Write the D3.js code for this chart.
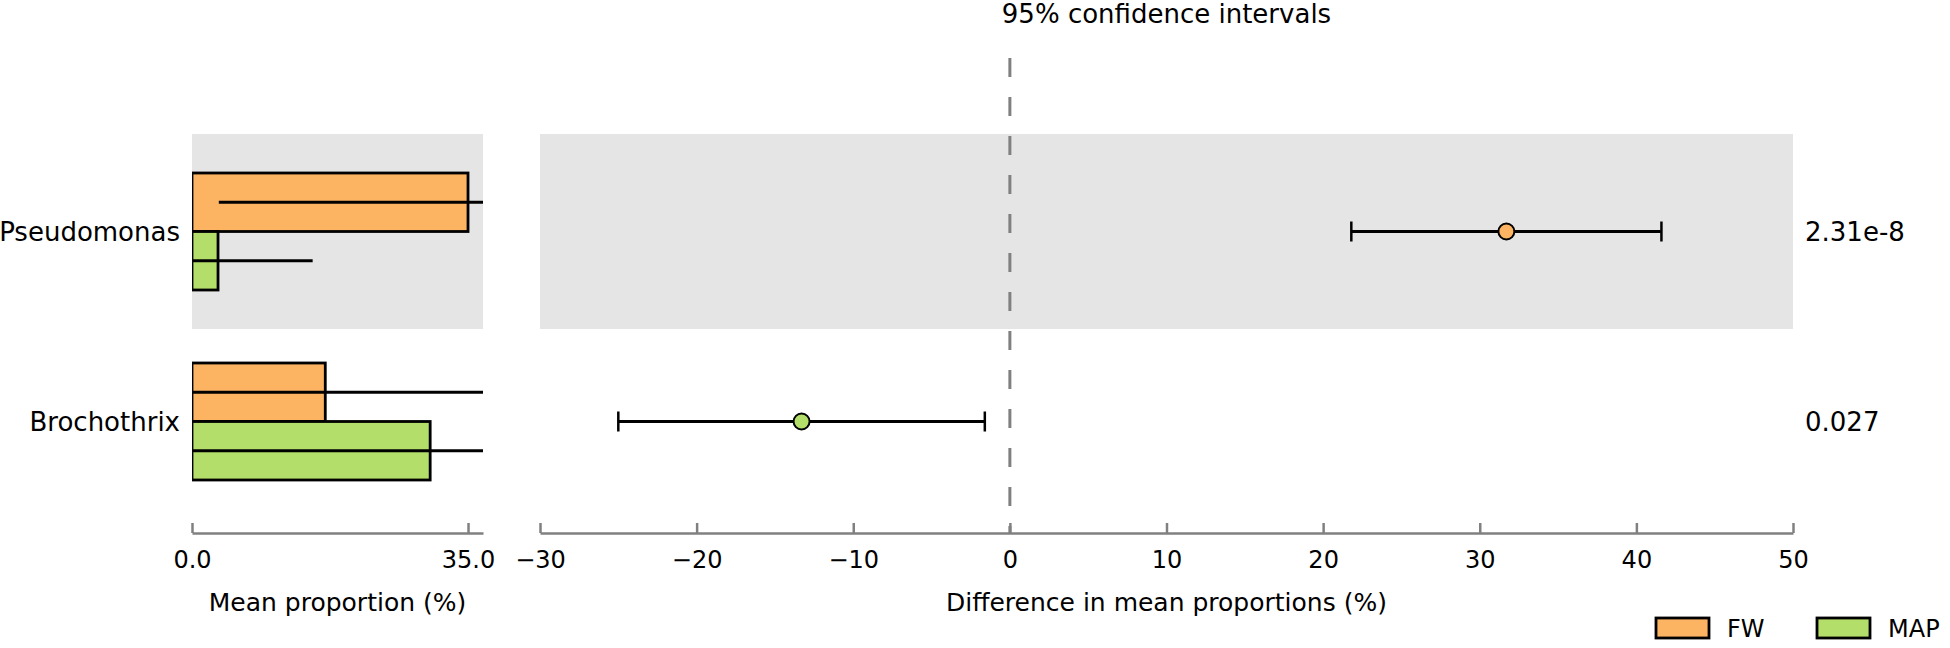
<!DOCTYPE html>
<html>
<head>
<meta charset="utf-8">
<script src="https://cdn.jsdelivr.net/npm/d3@7"></script>
<style>
  body { margin: 0; background: #fff; }
  svg text { font-family: "DejaVu Sans", sans-serif; fill: #000; }
  .axis path, .axis line { stroke: #808080; stroke-width: 2.5; }
  .axis text { font-size: 24px; fill: #000; }
</style>
</head>
<body>
<div id="chart"></div>
<script>
const width = 1950;
const height = 648;

// data
const categories = ['Pseudomonas', 'Brochothrix'];
const groups = ['FW', 'MAP'];
const groupColors = ['#fdb462', '#b3de69'];
const meanFW = [35.0, 16.9];
const sdFW = [31.6, 24.0];
const meanMAP = [3.3, 30.2];
const sdMAP = [12.0, 32.0];
const diffMean = [31.7, -13.3];
const ciLow = [21.8, -25.0];
const ciHigh = [41.6, -1.6];
const pValues = ['2.31e-8', '0.027'];
const leftTicks = [0, 35];
const rightTicks = [-30, -20, -10, 0, 10, 20, 30, 40, 50];

const axisY = 533;

const svg = d3.select('#chart')
  .append('svg')
  .attr('width', width)
  .attr('height', height);

const xLeft = d3.scaleLinear().domain([0, 36.9]).range([192, 483]);
const xRight = d3.scaleLinear().domain([-30, 50]).range([540, 1793]);
const y = d3.scaleBand().domain(categories).range([136.5, 516.5]);

const band = y.bandwidth();
const barH = 58.5;
const stripeHalf = 97.5;
const center = d => y(d) + band / 2;

/* background stripes on alternate rows */
categories.forEach((cat, i) => {
  if (i % 2 !== 0) return;
  [xLeft, xRight].forEach((sc) => {
    svg.append('rect')
      .attr('x', sc.range()[0])
      .attr('y', center(cat) - stripeHalf)
      .attr('width', sc.range()[1] - sc.range()[0])
      .attr('height', stripeHalf * 2)
      .attr('fill', '#e5e5e5');
  });
});

svg.append('defs').append('clipPath')
  .attr('id', 'leftClip')
  .append('rect')
  .attr('x', xLeft.range()[0])
  .attr('y', 0)
  .attr('width', xLeft.range()[1] - xLeft.range()[0])
  .attr('height', height);

/* left panel: mean proportion bars */
const left = svg.append('g').attr('clip-path', 'url(#leftClip)');
const barRows = [];
categories.forEach((cat, i) => {
  barRows.push({ cat, g: 0, mean: meanFW[i], sd: sdFW[i] });
  barRows.push({ cat, g: 1, mean: meanMAP[i], sd: sdMAP[i] });
});

left.selectAll('rect.bar')
  .data(barRows)
  .enter()
  .append('rect')
  .attr('class', 'bar')
  .attr('x', xLeft(0))
  .attr('y', d => center(d.cat) - barH + d.g * barH)
  .attr('width', d => xLeft(d.mean) - xLeft(0))
  .attr('height', barH)
  .attr('fill', d => groupColors[d.g])
  .attr('stroke', '#000')
  .attr('stroke-width', 2.8);

left.selectAll('line.err')
  .data(barRows)
  .enter()
  .append('line')
  .attr('class', 'err')
  .attr('x1', d => xLeft(Math.max(0, d.mean - d.sd)))
  .attr('x2', d => xLeft(d.mean + d.sd))
  .attr('y1', d => center(d.cat) - barH / 2 + d.g * barH)
  .attr('y2', d => center(d.cat) - barH / 2 + d.g * barH)
  .attr('stroke', '#000')
  .attr('stroke-width', 2.8);

/* category labels */
svg.selectAll('text.cat')
  .data(categories)
  .enter()
  .append('text')
  .attr('class', 'cat')
  .attr('x', 180)
  .attr('y', d => center(d))
  .attr('dy', '0.36em')
  .attr('text-anchor', 'end')
  .style('font-size', '26px')
  .text(d => d);

/* zero line */
svg.append('line')
  .attr('x1', xRight(0))
  .attr('x2', xRight(0))
  .attr('y1', 58)
  .attr('y2', axisY)
  .attr('stroke', '#808080')
  .attr('stroke-width', 3)
  .attr('stroke-dasharray', '19,20');

/* right panel: confidence intervals */
const ciRows = categories.map((cat, i) => ({
  cat, mean: diffMean[i], lo: ciLow[i], hi: ciHigh[i], g: diffMean[i] > 0 ? 0 : 1,
}));

const ci = svg.selectAll('g.ci')
  .data(ciRows)
  .enter()
  .append('g')
  .attr('class', 'ci');

ci.append('line')
  .attr('x1', d => xRight(d.lo))
  .attr('x2', d => xRight(d.hi))
  .attr('y1', d => center(d.cat))
  .attr('y2', d => center(d.cat))
  .attr('stroke', '#000')
  .attr('stroke-width', 2.8);

['lo', 'hi'].forEach((k) => {
  ci.append('line')
    .attr('x1', d => xRight(d[k]))
    .attr('x2', d => xRight(d[k]))
    .attr('y1', d => center(d.cat) - 10)
    .attr('y2', d => center(d.cat) + 10)
    .attr('stroke', '#000')
    .attr('stroke-width', 2.5);
});

ci.append('circle')
  .attr('cx', d => xRight(d.mean))
  .attr('cy', d => center(d.cat))
  .attr('r', 8)
  .attr('fill', d => groupColors[d.g])
  .attr('stroke', '#000')
  .attr('stroke-width', 2);

/* p-values */
svg.selectAll('text.pval')
  .data(categories)
  .enter()
  .append('text')
  .attr('class', 'pval')
  .attr('x', 1805)
  .attr('y', d => center(d))
  .attr('dy', '0.36em')
  .style('font-size', '26px')
  .text((d, i) => pValues[i]);

/* axes */
const leftAxis = d3.axisBottom(xLeft)
  .tickValues(leftTicks)
  .tickFormat(d3.format('.1f'))
  .tickSizeInner(-10)
  .tickSizeOuter(0)
  .tickPadding(18);

const rightAxis = d3.axisBottom(xRight)
  .tickValues(rightTicks)
  .tickSizeInner(-10)
  .tickSizeOuter(0)
  .tickPadding(18);

svg.append('g')
  .attr('class', 'axis')
  .attr('transform', `translate(0, ${axisY})`)
  .call(leftAxis);

svg.append('g')
  .attr('class', 'axis')
  .attr('transform', `translate(0, ${axisY})`)
  .call(rightAxis);

svg.selectAll('.axis .domain').attr('stroke', '#808080');

/* titles */
const midRight = (xRight.range()[0] + xRight.range()[1]) / 2;
const midLeft = (xLeft.range()[0] + xLeft.range()[1]) / 2;

svg.append('text')
  .attr('x', midRight)
  .attr('y', 23)
  .attr('text-anchor', 'middle')
  .style('font-size', '26px')
  .text('95% confidence intervals');

svg.append('text')
  .attr('x', midLeft)
  .attr('y', 611)
  .attr('text-anchor', 'middle')
  .style('font-size', '25px')
  .text('Mean proportion (%)');

svg.append('text')
  .attr('x', midRight)
  .attr('y', 611)
  .attr('text-anchor', 'middle')
  .style('font-size', '25px')
  .text('Difference in mean proportions (%)');

/* legend */
const legendX = [1656, 1817];
const legend = svg.selectAll('g.legend')
  .data(groups)
  .enter()
  .append('g')
  .attr('class', 'legend')
  .attr('transform', (d, i) => `translate(${legendX[i]}, 618)`);

legend.append('rect')
  .attr('width', 53)
  .attr('height', 20)
  .attr('fill', (d, i) => groupColors[i])
  .attr('stroke', '#000')
  .attr('stroke-width', 2.8);

legend.append('text')
  .attr('x', 71)
  .attr('y', 19)
  .style('font-size', '24px')
  .text(d => d);
</script>
</body>
</html>
